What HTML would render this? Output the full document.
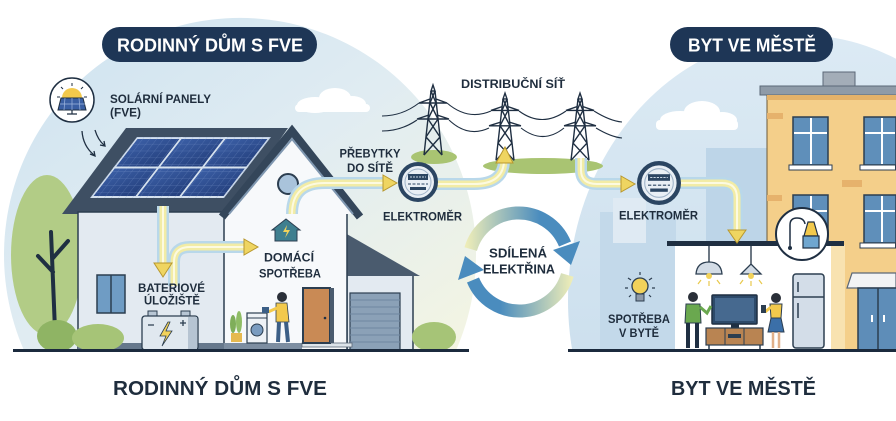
<!DOCTYPE html>
<html><head><meta charset="utf-8"><style>
html,body{margin:0;padding:0;background:#fff;width:896px;height:421px;overflow:hidden;}
svg{display:block;overflow:hidden;}
text{font-family:"Liberation Sans",Arial,sans-serif;font-weight:bold;fill:#1f2d3d;}
</style></head><body>
<svg width="896" height="421" viewBox="0 0 896 421" xmlns="http://www.w3.org/2000/svg">
<defs>
<linearGradient id="lc" x1="0" y1="0" x2="1" y2="1">
 <stop offset="0" stop-color="#cde2f0"/>
 <stop offset="0.5" stop-color="#e0ecf2"/>
 <stop offset="1" stop-color="#f4f5e2"/>
</linearGradient>
<linearGradient id="rc" x1="0" y1="0" x2="0" y2="1">
 <stop offset="0" stop-color="#dceaf4"/>
 <stop offset="1" stop-color="#cde0ee"/>
</linearGradient>
<linearGradient id="cyc1" gradientUnits="userSpaceOnUse" x1="466" y1="0" x2="540" y2="0">
 <stop offset="0" stop-color="#eeedb8"/>
 <stop offset="1" stop-color="#4a8cbe"/>
</linearGradient>
<linearGradient id="cyc2" gradientUnits="userSpaceOnUse" x1="572" y1="0" x2="500" y2="0">
 <stop offset="0" stop-color="#eeedb8"/>
 <stop offset="1" stop-color="#4a8cbe"/>
</linearGradient>
<linearGradient id="pnl" x1="0" y1="0" x2="1" y2="1">
 <stop offset="0" stop-color="#3b5fa6"/>
 <stop offset="1" stop-color="#243f7c"/>
</linearGradient>
<pattern id="cells" width="7" height="6.9" patternUnits="userSpaceOnUse">
 <path d="M0,0 H7 M0,0 V6.9" stroke="#7d97cc" stroke-width="0.6" fill="none"/>
</pattern>
<g id="py" fill="none" stroke="#1f2f42" stroke-width="1.4">
 <path d="M0,-4 L-2,2 L2,2 Z"/>
 <path d="M-2,2 L-9,66 M2,2 L9,66"/>
 <path d="M-14,14 L14,14 M-14,14 L-3,10 M14,14 L3,10"/>
 <path d="M-16,30 L16,30 M-16,30 L-4,26 M16,30 L4,26"/>
 <path d="M-2,2 L3,14 M2,2 L-3,14 M-3,14 L5,30 M3,14 L-5,30 M-5,30 L7,48 M5,30 L-7,48 M-7,48 L9,66 M7,48 L-9,66"/>
</g>
<g id="meter">
 <circle r="18" fill="#e9eff5" stroke="#2b4562" stroke-width="4"/>
 <circle r="13" fill="none" stroke="#9fb3c8" stroke-width="1"/>
 <rect x="-10" y="-8" width="20" height="6" fill="#2b4562"/>
 <path d="M-8,-5 H8" stroke="#c8d6e4" stroke-width="1" stroke-dasharray="2,1"/>
 <path d="M-10,2 H10" stroke="#2b4562" stroke-width="1" stroke-dasharray="3,1.5"/>
 <rect x="-8" y="5" width="16" height="3" fill="#2b4562"/>
</g>
</defs>

<!-- background circles (truncated at ground) -->
<path d="M24.7,352 A236,237 0 1 1 455.3,352 Z" fill="url(#lc)"/>
<path d="M572.5,352 A232,265 0 0 1 896,58.7 V352 Z" fill="url(#rc)"/>

<!-- clouds -->
<g fill="#ffffff">
 <ellipse cx="315" cy="105" rx="18" ry="8"/><ellipse cx="335" cy="98" rx="16" ry="10"/><ellipse cx="352" cy="104" rx="14" ry="8"/><rect x="295" y="104" width="75" height="8" rx="4"/>
 <ellipse cx="680" cy="120" rx="20" ry="9"/><ellipse cx="702" cy="112" rx="18" ry="11"/><ellipse cx="722" cy="120" rx="15" ry="8"/><rect x="656" y="120" width="82" height="10" rx="4"/>
</g>

<!-- right skyline -->
<rect x="600" y="212" width="76" height="140" fill="#c3d9ea"/>
<rect x="613" y="198" width="33" height="45" fill="#dfeaf3"/>
<rect x="706" y="148" width="62" height="204" fill="#bdd5e8"/>

<!-- apartment building -->
<rect x="823" y="72" width="32" height="15" fill="#a3adb8" stroke="#5b6877" stroke-width="1"/>
<rect x="760" y="86" width="136" height="9" fill="#8f9ba8"/>
<path d="M896,86 H760 V95 H896" fill="none" stroke="#5b6877" stroke-width="1"/>
<rect x="767" y="95" width="129" height="257" fill="#f4cf8a"/>
<path d="M767,352 V95" stroke="#6b5a3a" stroke-width="1"/>
<rect x="767" y="95" width="129" height="5" fill="#e4b26a"/>
<rect x="767" y="113" width="16" height="6" fill="#e6b26c"/>
<rect x="842" y="180" width="20" height="7" fill="#e6b26c"/>
<rect x="767" y="195" width="15" height="6" fill="#e6b26c"/>
<g fill="#5f8fba" stroke="#2c3e50" stroke-width="1.5">
 <rect x="793" y="117" width="35" height="48"/>
 <rect x="864" y="117" width="32" height="48"/>
 <rect x="793" y="195" width="35" height="48"/>
 <rect x="864" y="195" width="32" height="48"/>
</g>
<g stroke="#ffffff" stroke-width="2">
 <path d="M811,118 V164 M794,133 H827 M882,118 V164 M865,133 H895 M811,196 V242 M794,211 H827 M882,196 V242 M865,211 H895"/>
</g>
<g fill="#ffffff" stroke="#2c3e50" stroke-width="1">
 <rect x="789" y="165" width="43" height="5"/><rect x="860" y="165" width="35.5" height="5"/>
 <rect x="789" y="243" width="43" height="5"/><rect x="860" y="243" width="35.5" height="5"/>
</g>
<!-- awning & door -->
<path d="M847,288 L852,273 H896 V288 Z" fill="#f2f3f4" stroke="#5b6877" stroke-width="1.2"/>
<rect x="858" y="288" width="38" height="62" fill="#5e8db8"/>
<path d="M896,288 H858 V350 H896" fill="none" stroke="#2c3e50" stroke-width="1.5"/>
<path d="M878,288 V350" stroke="#2c3e50" stroke-width="1.5"/>
<path d="M872,315 V322 M884,315 V322" stroke="#ffffff" stroke-width="2"/>

<!-- apartment room -->
<rect x="675" y="245" width="158" height="106" fill="#ffffff"/>
<rect x="831" y="245" width="14" height="106" fill="#f8e2b0"/>
<rect x="667" y="241" width="177" height="5" fill="#1f2f42"/>
<!-- lamps -->
<path d="M709,246 V262 M751,246 V264" stroke="#1f2f42" stroke-width="1.3"/>
<path d="M696,274 Q697,262 709,262 Q721,262 722,274 Z" fill="#d3dce6" stroke="#2c3e50" stroke-width="1.3"/>
<path d="M741,274 L751,264 L761,274 Z" fill="#d3dce6" stroke="#2c3e50" stroke-width="1.3"/>
<circle cx="709" cy="276" r="3" fill="#f2d25a"/><circle cx="751" cy="276" r="3" fill="#f2d25a"/>
<path d="M701,280 L698,284 M709,281 V286 M717,280 L720,284 M743,280 L740,284 M751,281 V286 M759,280 L762,284" stroke="#e8c94c" stroke-width="1.2"/>
<!-- TV -->
<rect x="712" y="295" width="45" height="29" rx="1" fill="#2d4a6a" stroke="#1f2f42" stroke-width="1.5"/>
<rect x="715" y="298" width="39" height="23" fill="#46698f"/>
<rect x="731" y="324" width="8" height="4" fill="#1f2f42"/>
<rect x="706" y="328" width="57" height="17" fill="#b98452" stroke="#2c3e50" stroke-width="1.2"/>
<path d="M725,328 V345 M744,328 V345" stroke="#2c3e50" stroke-width="1"/>
<rect x="728" y="334" width="13" height="4" fill="#2c3e50"/>
<path d="M709,345 V349 M760,345 V349" stroke="#2c3e50" stroke-width="1.5"/>
<!-- man -->
<circle cx="693" cy="297" r="5" fill="#2a2f38"/>
<path d="M686,304 H700 L701,323 H685 Z" fill="#6aa84f" stroke="#2c3e50" stroke-width="1"/>
<path d="M700,307 L707,313 L711,306" stroke="#6aa84f" stroke-width="3" fill="none"/>
<path d="M688,323 V348 M697,323 V348" stroke="#1f2f42" stroke-width="4"/>
<!-- woman -->
<circle cx="776" cy="298" r="5" fill="#2a2f38"/>
<path d="M770,304 H782 L781,318 H771 Z" fill="#f2c94c" stroke="#2c3e50" stroke-width="1"/>
<path d="M771,318 H781 L784,332 H768 Z" fill="#3b6fa8" stroke="#2c3e50" stroke-width="1"/>
<path d="M771,307 L765,312" stroke="#f2c94c" stroke-width="3"/>
<rect x="761" y="305" width="5" height="8" fill="#2c3e50"/>
<path d="M773,332 V348 M779,332 V348" stroke="#e0b08a" stroke-width="2.5"/>
<!-- fridge -->
<rect x="793" y="274" width="31" height="74" rx="3" fill="#d3dde8" stroke="#2c3e50" stroke-width="1.5"/>
<path d="M793,297 H824 M798,282 V292 M798,303 V318" stroke="#2c3e50" stroke-width="1.5"/>
<!-- lamp circle icon -->
<circle cx="802" cy="234" r="26" fill="#ffffff" stroke="#1f2f42" stroke-width="2"/>
<path d="M790,247 V225 Q790,218 797,218 Q804,218 805,224" stroke="#1f2f42" stroke-width="1.5" fill="none"/>
<circle cx="790" cy="248" r="2" fill="#1f2f42"/>
<path d="M808,222 H814 L818,236 H804 Z" fill="#f2c94c" stroke="#1f2f42" stroke-width="1.2"/>
<rect x="803" y="236" width="16" height="12" fill="#6fa6cf" stroke="#1f2f42" stroke-width="1.2"/>
<!-- bulb icon -->
<circle cx="640" cy="286" r="8" fill="#f2d25a" stroke="#2c3e50" stroke-width="1.3"/>
<rect x="636" y="294" width="8" height="7" fill="#8e9aa8" stroke="#2c3e50" stroke-width="1"/>
<path d="M640,272 V275 M628,278 L631,280 M652,278 L649,280 M625,288 H628 M652,288 H655 M629,297 L631,295 M651,297 L649,295" stroke="#2c3e50" stroke-width="1.2"/>

<!-- left: tree foliage -->
<ellipse cx="47" cy="255" rx="36" ry="80" fill="#b2cc86"/>
<path d="M55,330 L51,232 M53,272 L38,256 M53,258 L68,241" stroke="#1f2f42" stroke-width="4" fill="none" stroke-linecap="round"/>

<!-- house: roof slab -->
<polygon points="126,128 288,128 228,214 62,214" fill="#3e4f63"/>
<g transform="translate(137,137) skewX(-37.6)">
 <rect x="0" y="0" width="134" height="61" fill="#d5e1ee"/>
 <g>
  <rect x="2" y="2" width="42" height="27.5" fill="url(#pnl)"/>
  <rect x="46" y="2" width="42" height="27.5" fill="url(#pnl)"/>
  <rect x="90" y="2" width="42" height="27.5" fill="url(#pnl)"/>
  <rect x="2" y="31.5" width="42" height="27.5" fill="url(#pnl)"/>
  <rect x="46" y="31.5" width="42" height="27.5" fill="url(#pnl)"/>
  <rect x="90" y="31.5" width="42" height="27.5" fill="url(#pnl)"/>
 </g>
 <rect x="0" y="0" width="134" height="61" fill="url(#cells)" opacity="0.7"/>
 <path d="M45,0 V61 M89,0 V61 M0,30.5 H134" stroke="#d5e1ee" stroke-width="2"/>
</g>
<!-- main wall -->
<rect x="78" y="212" width="147" height="139" fill="#e3eaf1" stroke="#2c3e50" stroke-width="1.5"/>
<!-- garage -->
<rect x="347" y="275" width="66" height="76" fill="#e3eaf1" stroke="#2c3e50" stroke-width="1.5"/>
<polygon points="345,233 420,276 345,276" fill="#4a5b6e"/>
<rect x="350" y="293" width="50" height="58" fill="#8ba1b7" stroke="#2c3e50" stroke-width="1.2"/>
<path d="M350,300 H400 M350,307 H400 M350,314 H400 M350,321 H400 M350,328 H400 M350,335 H400 M350,342 H400" stroke="#6f86a0" stroke-width="1"/>
<!-- gable wall -->
<polygon points="224,214 292,136 352,214 347,214 347,351 224,351" fill="#f7f9fb"/>
<path d="M224,214 V351 M347,214 V351" stroke="#2c3e50" stroke-width="1.5"/>
<polyline points="222,217 292,131 360,217" fill="none" stroke="#34465a" stroke-width="8" stroke-linejoin="miter"/>
<polyline points="229,214 292,139 353,214" fill="none" stroke="#7f97b0" stroke-width="2"/>
<!-- round window -->
<circle cx="288" cy="184" r="10" fill="#a9c3db" stroke="#2c3e50" stroke-width="2"/>
<!-- house icon -->
<polygon points="286,219 300,230 297,230 297,241 275,241 275,230 272,230" fill="#3f7f8f" stroke="#2c3e50" stroke-width="1"/>
<polygon points="287,225 283,232 287,232 285,238 290,230 286,230" fill="#f2d25a"/>
<!-- window -->
<rect x="97" y="275" width="28" height="38" fill="#6f9cc4" stroke="#2c3e50" stroke-width="1.5"/>
<path d="M111,275 V313" stroke="#2c3e50" stroke-width="1.5"/>
<!-- base band -->
<rect x="78" y="343" width="146" height="8" fill="#66788c"/>
<rect x="224" y="343" width="78" height="8" fill="#7d8ea1"/>
<rect x="302" y="343" width="50" height="4" fill="#dde4ea" stroke="#5b6877" stroke-width="0.8"/>
<!-- door -->
<rect x="303" y="288" width="27" height="55" fill="#c98a55" stroke="#2c3e50" stroke-width="2"/>
<rect x="330" y="288" width="4" height="55" fill="#4a5b6e"/>
<circle cx="325" cy="318" r="1.3" fill="#1f2f42"/>
<!-- battery -->
<rect x="148" y="311" width="9" height="5" fill="#b8c6d4" stroke="#2c3e50" stroke-width="1"/>
<rect x="181" y="311" width="9" height="5" fill="#b8c6d4" stroke="#2c3e50" stroke-width="1"/>
<rect x="142" y="316" width="56" height="34" rx="3" fill="#e0e8ef" stroke="#2c3e50" stroke-width="1.3"/>
<rect x="188" y="317" width="9" height="32" fill="#b6c4d2"/>
<path d="M148,325 H154 M180,323 H186 M183,320 V326" stroke="#2c3e50" stroke-width="1.3"/>
<polygon points="168,322 160,336 166,336 162,346 172,331 166,331 170,322" fill="#f2d25a" stroke="#2c3e50" stroke-width="0.8"/>
<!-- plant, washer, person -->
<ellipse cx="233" cy="324" rx="3" ry="9" fill="#7fae5a"/><ellipse cx="239" cy="322" rx="3" ry="11" fill="#8fbd66"/>
<rect x="231" y="333" width="11" height="9" fill="#e6b94f"/>
<rect x="247" y="313" width="20" height="30" fill="#eef2f6" stroke="#2c3e50" stroke-width="1.2"/>
<path d="M247,318 H267" stroke="#2c3e50" stroke-width="1"/>
<circle cx="257" cy="330" r="6" fill="#7a9cc0" stroke="#2c3e50" stroke-width="1"/>
<circle cx="282" cy="297" r="5" fill="#2a2f38"/>
<path d="M276,303 H287 L289,322 H276 Z" fill="#f2c94c" stroke="#2c3e50" stroke-width="0.8"/>
<path d="M277,308 L268,312" stroke="#f2c94c" stroke-width="3"/>
<rect x="262" y="307" width="7" height="6" fill="#3c5f86"/>
<path d="M279,322 L278,342 M286,322 L288,342" stroke="#3c5f86" stroke-width="4"/>
<!-- bushes -->
<ellipse cx="57" cy="336" rx="20" ry="16" fill="#8fb464"/>
<ellipse cx="98" cy="338" rx="26" ry="14" fill="#a6c477"/>
<ellipse cx="434" cy="337" rx="22" ry="15" fill="#a6c477"/>

<!-- solar icon -->
<circle cx="72" cy="100" r="22" fill="#ffffff" stroke="#1f2f42" stroke-width="1.5"/>
<path d="M62,98 A10,10 0 0 1 82,98 Z" fill="#f2c94c"/>
<path d="M72,83 V86 M61,87 L63,89 M83,87 L81,89 M57,97 H60 M84,97 H87" stroke="#1f2f42" stroke-width="1"/>
<polygon points="61,98 83,98 86,110 58,110" fill="#3a5fa3" stroke="#1f2f42" stroke-width="1"/>
<path d="M72,98 V110 M65,98 L64,110 M79,98 L80,110 M60,104 H85" stroke="#9fb6de" stroke-width="0.7"/>
<path d="M72,110 V114 M67,114 H77" stroke="#1f2f42" stroke-width="1.2"/>
<!-- small arrows -->
<path d="M82,131 Q83,146 94,155" fill="none" stroke="#1f2f42" stroke-width="1.3"/>
<path d="M90,154 L95,156 L94,151" fill="none" stroke="#1f2f42" stroke-width="1.3"/>
<path d="M95,130 Q98,140 104,145" fill="none" stroke="#1f2f42" stroke-width="1.3"/>
<path d="M100,145 L105,146 L104,141" fill="none" stroke="#1f2f42" stroke-width="1.3"/>

<!-- pylons, wires, grass -->
<ellipse cx="434" cy="157" rx="23" ry="7" fill="#a9c472"/>
<ellipse cx="543" cy="166" rx="60" ry="8" fill="#a9c472"/>
<g fill="none" stroke="#1f2f42" stroke-width="1.1">
 <path d="M382,116 Q402,116 419,103"/>
 <path d="M447,103 Q468,121 491,111"/>
 <path d="M519,111 Q542,128 566,111"/>
 <path d="M594,111 Q610,121 622,122"/>
 <path d="M382,131 Q401,131 417,120"/>
 <path d="M449,120 Q468,138 489,128"/>
 <path d="M521,128 Q543,145 564,128"/>
 <path d="M596,128 Q611,137 622,138"/>
</g>
<use href="#py" transform="translate(433,89)"/>
<use href="#py" transform="translate(505,97) scale(1,0.96)"/>
<use href="#py" transform="translate(580,97) scale(1,0.96)"/>

<!-- energy arrows -->
<g fill="none" stroke-linecap="butt" stroke-linejoin="round">
 <g stroke="#b9d8ea" stroke-width="12">
  <path d="M163,206 V264"/>
  <path d="M174,286 V262 Q174,247 190,247 H246"/>
  <path d="M292,214 C292,192 304,183 325,183 H385"/>
  <path d="M436,184 H474 C494,184 503,176 504,162"/>
  <path d="M581,158 V170 Q581,184 597,184 H622"/>
  <path d="M677,183 H722 Q737,183 737,198 V231"/>
 </g>
 <g stroke="#f2eca6" stroke-width="7">
  <path d="M163,206 V264"/>
  <path d="M174,286 V262 Q174,247 190,247 H246"/>
  <path d="M292,214 C292,192 304,183 325,183 H385"/>
  <path d="M436,184 H474 C494,184 503,176 504,162"/>
  <path d="M581,158 V170 Q581,184 597,184 H622"/>
  <path d="M677,183 H722 Q737,183 737,198 V231"/>
 </g>
 <g stroke="#fcfae0" stroke-width="2">
  <path d="M163,206 V264"/>
  <path d="M174,286 V262 Q174,247 190,247 H246"/>
  <path d="M292,214 C292,192 304,183 325,183 H385"/>
  <path d="M436,184 H474 C494,184 503,176 504,162"/>
  <path d="M581,158 V170 Q581,184 597,184 H622"/>
  <path d="M677,183 H722 Q737,183 737,198 V231"/>
 </g>
</g>
<g fill="#efd561" stroke="#b8982f" stroke-width="1">
 <polygon points="154,263 172,263 163,277"/>
 <polygon points="244,239 258,247 244,255"/>
 <polygon points="383,175 397,183 383,191"/>
 <polygon points="496,163 505,147 513,163"/>
 <polygon points="621,176 635,184 621,192"/>
 <polygon points="728,230 746,230 737,243"/>
</g>

<!-- meters -->
<use href="#meter" transform="translate(418,182)"/>
<use href="#meter" transform="translate(659,183) scale(1.1)"/>

<!-- cycle -->
<g fill="none" stroke-width="13">
 <path d="M470.7,249.1 A50,50 0 0 1 565,244" stroke="url(#cyc1)"/>
 <path d="M567.3,274.9 A50,50 0 0 1 473,280" stroke="url(#cyc2)"/>
</g>
<polygon points="580,241 553,250 571,265" fill="#4a8cbe"/>
<polygon points="458,280 484,270 465,256" fill="#4a8cbe"/>

<!-- ground -->
<rect x="0" y="352" width="896" height="69" fill="#ffffff"/>
<rect x="13" y="349" width="456" height="3" fill="#1b2a3d"/>
<rect x="568" y="349" width="328" height="3" fill="#1b2a3d"/>

<!-- pills -->
<rect x="102" y="27" width="215" height="35" rx="17.5" fill="#1e3656"/>
<rect x="670" y="27" width="163" height="35" rx="17.5" fill="#1e3656"/>
<text x="210" y="51.5" font-size="18" text-anchor="middle" textLength="186" lengthAdjust="spacingAndGlyphs" style="fill:#ffffff">RODINNÝ DŮM S FVE</text>
<text x="752" y="51.5" font-size="18" text-anchor="middle" textLength="128" lengthAdjust="spacingAndGlyphs" style="fill:#ffffff">BYT VE MĚSTĚ</text>

<!-- labels -->
<text x="110" y="103" font-size="12" textLength="101" lengthAdjust="spacingAndGlyphs">SOLÁRNÍ PANELY</text>
<text x="110" y="116.5" font-size="12" textLength="31" lengthAdjust="spacingAndGlyphs">(FVE)</text>
<text x="370" y="157.5" font-size="12" text-anchor="middle" textLength="61" lengthAdjust="spacingAndGlyphs">PŘEBYTKY</text>
<text x="370" y="172" font-size="12" text-anchor="middle" textLength="46" lengthAdjust="spacingAndGlyphs">DO SÍTĚ</text>
<text x="422.5" y="220.5" font-size="12" text-anchor="middle" textLength="79" lengthAdjust="spacingAndGlyphs">ELEKTROMĚR</text>
<text x="513" y="88" font-size="12" text-anchor="middle" textLength="104" lengthAdjust="spacingAndGlyphs">DISTRIBUČNÍ SÍŤ</text>
<text x="658.5" y="219.5" font-size="12" text-anchor="middle" textLength="79" lengthAdjust="spacingAndGlyphs">ELEKTROMĚR</text>
<text x="289" y="261.5" font-size="12" text-anchor="middle" textLength="50" lengthAdjust="spacingAndGlyphs">DOMÁCÍ</text>
<text x="290" y="277.5" font-size="12" text-anchor="middle" textLength="62" lengthAdjust="spacingAndGlyphs">SPOTŘEBA</text>
<text x="171.5" y="292" font-size="11.5" text-anchor="middle" textLength="67" lengthAdjust="spacingAndGlyphs">BATERIOVÉ</text>
<text x="172" y="304.5" font-size="11.5" text-anchor="middle" textLength="56" lengthAdjust="spacingAndGlyphs">ÚLOŽIŠTĚ</text>
<text x="518" y="257.5" font-size="13" text-anchor="middle" textLength="58" lengthAdjust="spacingAndGlyphs">SDÍLENÁ</text>
<text x="519" y="273.5" font-size="13" text-anchor="middle" textLength="72" lengthAdjust="spacingAndGlyphs">ELEKTŘINA</text>
<text x="639" y="323" font-size="11.5" text-anchor="middle" textLength="62" lengthAdjust="spacingAndGlyphs">SPOTŘEBA</text>
<text x="639" y="337" font-size="11.5" text-anchor="middle" textLength="40" lengthAdjust="spacingAndGlyphs">V BYTĚ</text>

<!-- bottom titles -->
<text x="220" y="395" font-size="20" text-anchor="middle" textLength="214" lengthAdjust="spacingAndGlyphs">RODINNÝ DŮM S FVE</text>
<text x="743.5" y="395" font-size="20" text-anchor="middle" textLength="145" lengthAdjust="spacingAndGlyphs">BYT VE MĚSTĚ</text>
</svg>
</body></html>
